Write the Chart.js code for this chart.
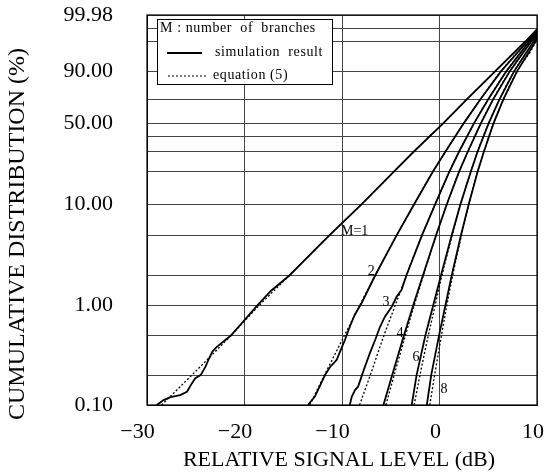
<!DOCTYPE html>
<html>
<head>
<meta charset="utf-8">
<script src="https://cdn.jsdelivr.net/npm/chart.js@4.4.0/dist/chart.umd.min.js"></script>
<style>
  html, body { margin: 0; padding: 0; background: #fff; }
</style>
</head>
<body>
<canvas id="cdf" width="556" height="476"></canvas>
<script>
// x: relative signal level (dB), y: cumulative distribution (%)
const eqM1 = [[-28.5,0.1],[-25.4,0.2],[-21.4,0.5],[-18.5,1],[-15.4,2],[-11.3,5],[-8.0,10],[-4.7,20],[-2.65,30],[0.4,50],[2.8,70],[5.7,90],[8.8,99],[10,99.78]];
const simM1 = [[-29.0,0.1],[-28.3,0.112],[-27.6,0.12],[-26.6,0.126],[-25.9,0.136],[-25.4,0.165],[-25.05,0.186],[-24.5,0.2],[-24.0,0.243],[-23.7,0.284],[-23.3,0.344],[-22.9,0.38],[-21.4,0.5],[-18.7,1],[-17.3,1.4],[-15.4,2],[-11.3,5],[-8.0,10],[-4.7,20],[-2.65,30],[0.4,50],[2.8,70],[5.7,90],[8.8,99],[10,99.78]];

const eqM2 = [[-13.3,0.1],[-11.8,0.2],[-9.75,0.5],[-8.2,1],[-6.6,2],[-4.4,5],[-2.6,10],[-0.7,20],[0.6,30],[2.5,50],[4.2,70],[6.3,90],[9.0,99],[10,99.74]];
const simM2 = [[-13.5,0.1],[-12.8,0.121],[-12.3,0.153],[-11.75,0.2],[-11.2,0.243],[-10.55,0.284],[-10.2,0.344],[-9.7,0.451],[-9.2,0.613],[-8.7,0.804],[-8.0,1.054],[-6.6,2],[-4.4,5],[-2.6,10],[-0.7,20],[0.6,30],[2.5,50],[4.2,70],[6.3,90],[9.0,99],[10,99.74]];

const eqM3 = [[-8.2,0.1],[-7.1,0.2],[-5.7,0.5],[-4.55,1],[-3.4,2],[-1.8,5],[-0.45,10],[1.0,20],[2.0,30],[3.55,50],[5.0,70],[6.85,90],[9.2,99],[10,99.68]];
const simM3 = [[-9.2,0.1],[-9.0,0.121],[-8.65,0.142],[-8.35,0.153],[-8.0,0.193],[-7.65,0.243],[-7.15,0.331],[-6.6,0.451],[-6.1,0.613],[-5.6,0.773],[-4.9,0.973],[-4.4,1.226],[-3.9,1.43],[-3.4,2],[-1.8,5],[-0.45,10],[1.0,20],[2.0,30],[3.55,50],[5.0,70],[6.85,90],[9.2,99],[10,99.68]];

const eqM4 = [[-5.5,0.1],[-4.65,0.2],[-3.5,0.5],[-2.6,1],[-1.65,2],[-0.35,5],[0.75,10],[2.0,20],[2.9,30],[4.25,50],[5.5,70],[7.2,90],[9.4,99],[10,99.6]];
const simM4 = [[-5.75,0.1],[-4.85,0.2],[-3.65,0.5],[-2.7,1],[-1.7,2],[-0.35,5],[0.75,10],[2.0,20],[2.9,30],[4.25,50],[5.5,70],[7.2,90],[9.4,99],[10,99.6]];

const eqM6 = [[-2.6,0.1],[-2.0,0.2],[-1.15,0.5],[-0.45,1],[0.25,2],[1.3,5],[2.15,10],[3.2,20],[3.9,30],[5.05,50],[6.15,70],[7.65,90],[9.65,99],[10,99.5]];
const simM6 = [[-2.85,0.1],[-2.35,0.2],[-1.45,0.5],[-0.65,1],[0.15,2],[1.25,5],[2.15,10],[3.2,20],[3.9,30],[5.05,50],[6.15,70],[7.65,90],[9.65,99],[10,99.5]];

const eqM8 = [[-1.0,0.1],[-0.5,0.2],[0.2,0.5],[0.75,1],[1.35,2],[2.25,5],[3.0,10],[3.9,20],[4.55,30],[5.55,50],[6.55,70],[7.95,90],[9.85,99],[10,99.4]];
const simM8 = [[-1.3,0.1],[-0.85,0.2],[-0.05,0.5],[0.6,1],[1.25,2],[2.2,5],[3.0,10],[3.9,20],[4.55,30],[5.55,50],[6.55,70],[7.95,90],[9.85,99],[10,99.4]];

const yGrid = [0.1, 0.2, 0.5, 1, 2, 5, 10, 20, 30, 40, 50, 70, 90, 99, 99.8, 99.98];
const yLabeled = [0.1, 1, 10, 50, 90, 99.98];

const curveLabels = ['M=1', '2', '3', '4', '6', '8'];
const curveLabelDb = [-8.7, -7.0, -5.5, -4.05, -2.4, 0.45];
const curveLabelPct = [5.5, 2.2, 1.09, 0.53, 0.30, 0.145];

const legendTitle = 'M : number  of  branches';
const legendSim = 'simulation  result';
const legendEq = 'equation (5)';

const SERIF = '"Liberation Serif", "Times New Roman", serif';

// Rayleigh probability paper: position is linear in log10(-ln(1 - P))
const rt = p => Math.log10(-Math.log(1 - p / 100));

class RayleighScale extends Chart.Scale {
    determineDataLimits() {
        this.min = this.options.min;
        this.max = this.options.max;
    }
    buildTicks() {
        return yGrid.map(v => ({ value: v }));
    }
    getLabelForValue(v) {
        return v.toFixed(2);
    }
    configure() {
        super.configure();
        this._lo = rt(this.min);
        this._hi = rt(this.max);
    }
    getPixelForValue(v) {
        return this.getPixelForDecimal((rt(v) - this._lo) / (this._hi - this._lo));
    }
    getValueForPixel(px) {
        const t = this._lo + this.getDecimalForPixel(px) * (this._hi - this._lo);
        return 100 * (1 - Math.exp(-Math.pow(10, t)));
    }
}
RayleighScale.id = 'rayleigh';
RayleighScale.defaults = {};
Chart.register(RayleighScale);

function simSet(data) {
    return { data: data, borderColor: '#000', borderWidth: 1.8, pointRadius: 0, fill: false };
}
function eqSet(data) {
    return { data: data, borderColor: '#000', borderWidth: 1.3, borderDash: [2, 2], pointRadius: 0, fill: false, cubicInterpolationMode: 'monotone' };
}

// keep the plot frame where the reference has it (tick padding would otherwise grow the margins)
function noPad(s) {
    s.paddingTop = 0;
    s.paddingBottom = 0;
    s.paddingLeft = 0;
    s.paddingRight = 0;
}

const extras = {
    id: 'extras',
    afterDraw(chart) {
        const { ctx, chartArea: a, scales: { x, y } } = chart;
        ctx.save();

        // frame
        ctx.strokeStyle = '#000';
        ctx.lineWidth = 1.2;
        ctx.strokeRect(a.left, a.top, a.right - a.left, a.bottom - a.top);

        // legend box
        const lx = a.left + 10, ly = a.top + 4, lw = 175, lh = 65;
        ctx.fillStyle = '#fff';
        ctx.fillRect(lx, ly, lw, lh);
        ctx.lineWidth = 1;
        ctx.strokeRect(lx + 0.5, ly + 0.5, lw, lh);
        ctx.fillStyle = '#000';
        ctx.font = '14px ' + SERIF;
        ctx.letterSpacing = '0.6px';
        ctx.textAlign = 'left';
        ctx.textBaseline = 'middle';
        ctx.fillText(legendTitle, lx + 3, ly + 9);
        ctx.fillText(legendSim, lx + 58, ly + 33);
        ctx.fillText(legendEq, lx + 56, ly + 56);
        ctx.beginPath();
        ctx.lineWidth = 1.8;
        ctx.moveTo(lx + 10, ly + 34);
        ctx.lineTo(lx + 45, ly + 34);
        ctx.stroke();
        ctx.beginPath();
        ctx.lineWidth = 1.2;
        ctx.setLineDash([2, 2]);
        ctx.moveTo(lx + 11, ly + 57);
        ctx.lineTo(lx + 50, ly + 57);
        ctx.stroke();
        ctx.setLineDash([]);
        ctx.letterSpacing = '0px';

        // curve labels
        ctx.font = '14px ' + SERIF;
        ctx.textAlign = 'center';
        curveLabels.forEach((t, i) => {
            ctx.fillText(t, x.getPixelForValue(curveLabelDb[i]), y.getPixelForValue(curveLabelPct[i]));
        });

        // axis titles
        ctx.font = '22px ' + SERIF;
        ctx.fillText('RELATIVE SIGNAL LEVEL (dB)', (a.left + a.right) / 2 - 3, 460);
        ctx.translate(18, 234);
        ctx.rotate(-Math.PI / 2);
        ctx.font = '24px ' + SERIF;
        ctx.fillText('CUMULATIVE DISTRIBUTION (%)', 0, 0);
        ctx.restore();
    }
};

new Chart(document.getElementById('cdf'), {
    type: 'line',
    data: {
        datasets: [
            simSet(simM1), eqSet(eqM1),
            simSet(simM2), eqSet(eqM2),
            simSet(simM3), eqSet(eqM3),
            simSet(simM4), eqSet(eqM4),
            simSet(simM6), eqSet(eqM6),
            simSet(simM8), eqSet(eqM8)
        ]
    },
    options: {
        responsive: false,
        animation: false,
        events: [],
        layout: { padding: { top: 15, right: 19, left: 0, bottom: 0 } },
        plugins: { legend: { display: false }, tooltip: { enabled: false } },
        scales: {
            x: {
                type: 'linear',
                min: -30,
                max: 10,
                afterFit: s => { s.height = 71; noPad(s); },
                ticks: {
                    stepSize: 10,
                    padding: 14,
                    labelOffset: -4,
                    color: '#000',
                    font: { family: SERIF, size: 22 },
                    callback: v => v < 0 ? '\u2212' + (-v) + '\u2002' : '' + v
                },
                grid: { color: '#444', lineWidth: 1, drawTicks: false },
                border: { color: '#000', width: 1 }
            },
            y: {
                type: 'rayleigh',
                min: 0.1,
                max: 99.98,
                afterFit: s => { s.width = 147; noPad(s); },
                ticks: {
                    autoSkip: false,
                    padding: 34,
                    color: '#000',
                    font: { family: SERIF, size: 22 },
                    callback: v => yLabeled.includes(v) ? v.toFixed(2) : ''
                },
                grid: { color: '#444', lineWidth: 1, drawTicks: false },
                border: { color: '#000', width: 1 }
            }
        }
    },
    plugins: [extras]
});
</script>
</body>
</html>
